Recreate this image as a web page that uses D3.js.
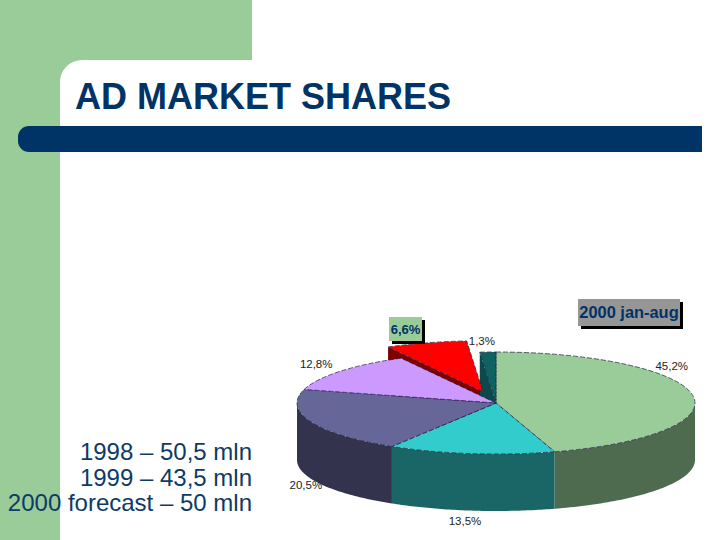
<!DOCTYPE html>
<html>
<head>
<meta charset="utf-8">
<script src="https://cdn.jsdelivr.net/npm/d3@7"></script>
<style>
html, body { margin: 0; padding: 0; background: #fff; }
svg { display: block; font-family: "Liberation Sans", Arial, sans-serif; }
</style>
</head>
<body>
<div id="chart"></div>
<script>
const labels = ["45,2%", "13,5%", "20,5%", "12,8%", "6,6%", "1,3%"];
const shares = [45.2, 13.5, 20.5, 12.8, 6.6, 1.3];
const topColors = ["#99cc99", "#33cccc", "#666699", "#cc99ff", "#ff0000", "#0e6262"];
const wallColors = ["#4f6b4f", "#1a6666", "#33334d", "#66507f", "#800000", "#0b4a4a"];
const notes = ["1998 – 50,5 mln", "1999 – 43,5 mln", "2000 forecast – 50 mln"];

const width = 720, height = 540;
const navy = "#003366", green = "#99cc99";

const cx = 496, cy = 403, rx = 199, ry = 51, depth = 57;
const explodedIndex = 4, explode = 0.23;
const edge = "#1c1c44";

// nudges from the rim point of each slice to its label centre
const labelNudge = [[-21, -29], [-6, 67], [-5, 63], [-24, -7], null, [-6, -11]];

const svg = d3.select("#chart").append("svg")
    .attr("width", width)
    .attr("height", height)
    .attr("viewBox", [0, 0, width, height]);

// slide background
svg.append("rect").attr("x", 0).attr("y", 0).attr("width", 252).attr("height", 90).attr("fill", green);
svg.append("rect").attr("x", 0).attr("y", 0).attr("width", 60).attr("height", height).attr("fill", green);
svg.append("path")
    .attr("d", "M60,540V82A22,22 0 0 1 82,60H252V90H720V540Z")
    .attr("fill", "#fff");
svg.append("path")
    .attr("d", "M702,126H29A11,11 0 0 0 18,137V141A11,11 0 0 0 29,152H702Z")
    .attr("fill", navy);

svg.append("text")
    .attr("x", 75)
    .attr("y", 109)
    .attr("font-size", 36)
    .attr("font-weight", "bold")
    .attr("fill", navy)
    .text("AD MARKET SHARES");

svg.append("g")
    .attr("text-anchor", "end")
    .attr("font-size", 24)
    .attr("fill", "#0d3a66")
    .selectAll("text")
    .data(notes)
    .enter().append("text")
    .attr("x", 252)
    .attr("y", (d, i) => 460 + i * 25.5)
    .text(d => d);

// pie
const pie = d3.pie().sort(null).value(d => d);
const slices = pie(shares).map((d, i) => {
    const mid = (d.startAngle + d.endAngle) / 2;
    const off = i === explodedIndex ? explode : 0;
    d.index = i;
    d.mid = mid;
    d.ox = cx + off * rx * Math.sin(mid);
    d.oy = cy - off * ry * Math.cos(mid);
    return d;
});

const arc = d3.arc().innerRadius(0).outerRadius(rx);
const rim = (d, a) => [d.ox + rx * Math.sin(a), d.oy - ry * Math.cos(a)];

const wallArea = d3.area()
    .x(d => d[0])
    .y0(d => d[1])
    .y1(d => d[1] + depth);

const chart = svg.append("g");

// faces exposed by the pulled out slice
function cutFace(d, a) {
    const p = rim(d, a);
    return [[d.ox, d.oy], p, [p[0], p[1] + depth], [d.ox, d.oy + depth]];
}

chart.append("g")
    .selectAll("path")
    .data(slices.filter(d => d.index === explodedIndex || d.index === 5))
    .enter().append("path")
    .attr("d", d => "M" + cutFace(d, d.startAngle).join("L") + "Z")
    .attr("fill", d => wallColors[d.index]);

// outer walls, only the front half of the rim shows
const front = slices.map(d => {
    const a0 = Math.max(d.startAngle, Math.PI / 2);
    const a1 = Math.min(d.endAngle, Math.PI * 1.5);
    return { slice: d, a0: a0, a1: a1 };
}).filter(w => w.a1 > w.a0 && w.slice.index !== explodedIndex);

chart.append("g")
    .selectAll("path")
    .data(front)
    .enter().append("path")
    .attr("d", w => wallArea(d3.range(0, 61).map(k => rim(w.slice, w.a0 + (w.a1 - w.a0) * k / 60))))
    .attr("fill", w => wallColors[w.slice.index]);

// tops, pulled out slice last so it sits over its neighbours
chart.append("g")
    .selectAll("path")
    .data(slices.slice().sort((a, b) => (a.index === explodedIndex) - (b.index === explodedIndex)))
    .enter().append("path")
    .attr("d", arc)
    .attr("transform", d => `translate(${d.ox},${d.oy}) scale(1,${ry / rx})`)
    .attr("fill", d => topColors[d.index])
    .attr("stroke", edge)
    .attr("stroke-width", 0.7)
    .attr("stroke-dasharray", "5 2")
    .attr("vector-effect", "non-scaling-stroke");

// percent labels
chart.append("g")
    .attr("text-anchor", "middle")
    .attr("font-size", 11.5)
    .attr("fill", "#222")
    .selectAll("text")
    .data(slices.filter(d => labelNudge[d.index]))
    .enter().append("text")
    .attr("x", d => rim(d, d.mid)[0] + labelNudge[d.index][0])
    .attr("y", d => rim(d, d.mid)[1] + labelNudge[d.index][1])
    .attr("dy", "0.35em")
    .text(d => labels[d.index]);

// boxed callouts
function callout(x, y, w, h, fill, size, text) {
    const g = svg.append("g");
    g.append("rect").attr("x", x + 3).attr("y", y + 3).attr("width", w).attr("height", h).attr("fill", "#000");
    g.append("rect").attr("x", x).attr("y", y).attr("width", w).attr("height", h).attr("fill", fill);
    g.append("text")
        .attr("x", x + w / 2)
        .attr("y", y + h / 2)
        .attr("dy", "0.36em")
        .attr("text-anchor", "middle")
        .attr("font-size", size)
        .attr("font-weight", "bold")
        .attr("fill", navy)
        .text(text);
}

callout(578, 299, 102, 27, "#969696", 16.4, "2000 jan-aug");
callout(389, 317, 33, 24, green, 13, labels[explodedIndex]);
</script>
</body>
</html>
